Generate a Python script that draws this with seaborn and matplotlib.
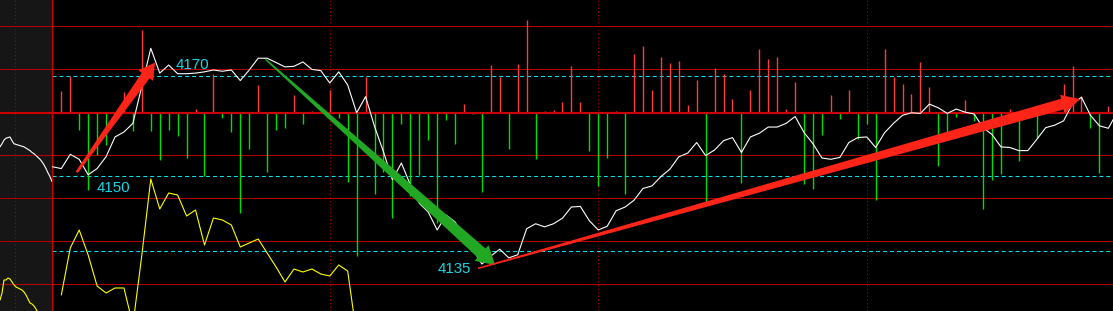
import numpy as np
import matplotlib
matplotlib.use("Agg")
import matplotlib.pyplot as plt
from matplotlib.patches import Polygon
import seaborn as sns

# ---------------- data ----------------
# main session: price line (slot -1 = open mark at the left border)
price_slots = list(range(-1, 119))
price = [4150.9, 4150.6, 4152.9, 4152.1, 4149.6, 4150.6, 4152.5, 4155.7, 4156.5, 4157.9,
         4163.9, 4170.0, 4166.0, 4167.3, 4165.9, 4165.9, 4166.0, 4166.2, 4166.5, 4166.3,
         4166.5, 4164.8, 4166.5, 4168.4, 4168.4, 4167.7, 4167.0, 4167.1, 4167.8, 4166.6,
         4166.4, 4164.4, 4166.2, 4164.1, 4159.6, 4162.2, 4157.4, 4153.3, 4148.8, 4151.5,
         4148.0, 4145.0, 4143.6, 4140.7, 4143.1, 4142.0, 4139.6, 4137.5, 4135.2, 4136.5,
         4137.6, 4136.2, 4136.7, 4140.9, 4141.7, 4141.2, 4141.7, 4142.6, 4144.4, 4144.5,
         4142.2, 4140.7, 4141.3, 4143.8, 4144.4, 4145.5, 4147.4, 4147.8, 4149.3, 4150.5,
         4152.5, 4153.1, 4154.8, 4152.7, 4153.6, 4155.1, 4155.6, 4153.2, 4155.7, 4156.3,
         4157.3, 4157.3, 4157.9, 4159.0, 4156.4, 4154.6, 4152.3, 4152.1, 4152.4, 4154.8,
         4155.6, 4155.7, 4154.0, 4156.4, 4157.9, 4159.2, 4159.6, 4159.5, 4161.0, 4160.4,
         4159.5, 4160.2, 4159.7, 4159.4, 4157.2, 4156.1, 4154.1, 4154.0, 4153.5, 4153.5,
         4155.3, 4157.2, 4157.6, 4158.3, 4161.1, 4162.1, 4159.2, 4157.5, 4157.1, 4159.7]

# net volume bars (positive = red, negative = green)
bar_slots = list(range(0, 118))
net_volume = [22, 37, -17, -77, -42, -32, 0, 21, -18, 83,
              -18, -47, -17, -23, -45, 4, -63, 39, -5, -19,
              -100, -36, 28, -59, -17, -15, 18, -11, 2, 0,
              23, -5, -69, -143, 36, -81, -59, -105, -11, -83,
              -62, -27, -110, -7, -31, 9, -1, -79, 48, 36,
              -36, 49, 93, -46, 2, 3, 11, 47, 11, -38,
              -73, -45, 2, -81, 59, 67, 23, 56, 50, 52,
              8, 33, -89, 45, 39, 14, -70, 23, 64, 54,
              56, 4, 31, -71, -76, -22, 18, -6, 23, -26,
              -11, -87, 64, 36, 29, 19, 51, 26, -53, -22,
              -4, 13, -8, -96, -67, -61, 4, -48, 0, -25,
              0, 0, 29, 47, 17, -15, -60, 7]

# yellow indicator (lower pane)
ind_slots = list(range(0, 34))
indicator = [16, 63, 81, 56, 25, 18, 23, 23, -14, 56,
             132, 102, 118, 116, 95, 101, 66, 93, 91, 86,
             64, 68, 72, 58, 44, 29, 42, 39, 42, 37,
             35, 46, 40, -24]

# previous session tail (grey pane on the left)
prev_slots = list(range(0, 27))
prev_price = [4154.1, 4154.6, 4155.2, 4155.5, 4155.6, 4155.7, 4155.1, 4154.6, 4154.5, 4154.4,
              4154.3, 4154.2, 4154.1, 4153.9, 4153.7, 4153.5, 4153.2, 4153.0, 4152.7, 4152.4,
              4152.1, 4151.7, 4151.2, 4150.6, 4149.9, 4149.3, 4148.5]
prev_ind_slots = list(range(0, 21))
prev_indicator = [11, 18, 31, 31, 33, 32, 29, 26, 24, 23,
                  22, 21, 19, 16, 12, 8, 7, 5, 2, -2, -6]

# annotations
level_labels = ["4170", "4150", "4135"]
level_label_slots = [12.82, 3.96, 42.02]
level_label_prices = [4166.6, 4146.8, 4133.7]
arrow_tails = [(1.72, 4150.0), (22.84, 4168.2), (46.56, 4134.5)]
arrow_tips = [(10.47, 4167.7), (48.46, 4135.05), (113.83, 4161.8)]
arrow_colors = ["#ff2418", "#22a822", "#ff2418"]
session_marks = [30, 60, 90]
prev_session_mark = 7.6

# ---------------- style ----------------
sns.set_theme(style="dark")
plt.rcParams["font.family"] = ["Liberation Sans", "DejaVu Sans"]

W, H = 1113, 311
DPI = 100
fig = plt.figure(figsize=(W / DPI, H / DPI), dpi=DPI, facecolor="black")
left = 52 / W

GRID_RED = "#b40000"
ZERO_RED = "#cc0000"
CYAN = "#00e5ee"

# background: grey previous-session pane + fixed grid (rows counted from top)
ax_bg = fig.add_axes([0, 0, 1, 1])
ax_bg.set_xlim(0, 1)
ax_bg.set_ylim(0, 1)
ax_bg.set_axis_off()
ax_bg.axvspan(0, left, color="#161616", lw=0)
for yrow in [26, 69, 155, 198, 241, 284]:
    ax_bg.axhline(1 - (yrow + 0.2) / H, color=GRID_RED, lw=0.75)
ax_bg.axhline(1 - 113 / H, color=ZERO_RED, lw=1.5)
for yrow in [76, 176, 251]:
    ax_bg.axhline(1 - (yrow + 0.2) / H, xmin=left, xmax=1, color=CYAN, lw=0.75,
                  ls=(0, (3.8, 2.9)))
ax_bg.axvline(52.2 / W, color=ZERO_RED, lw=0.9)

# previous session pane
ax_prev = fig.add_axes([0, 0, left, 1])
ax_prev.set_facecolor("none")
ax_prev_ind = ax_prev.twinx()
for a in (ax_prev, ax_prev_ind):
    a.set_axis_off()
    a.set_xlim(0, 26)
ax_prev.set_ylim(4127.63, 4177.79)
ax_prev_ind.set_ylim(0, 311)
ax_prev.axvline(prev_session_mark, color=GRID_RED, lw=0.75, ls=(0, (1, 2.5)))
sns.lineplot(x=prev_slots, y=prev_price, ax=ax_prev, color="white", lw=0.8)
sns.lineplot(x=prev_ind_slots, y=prev_indicator, ax=ax_prev_ind, color="#ffff00", lw=0.8)

# main pane
ax = fig.add_axes([left, 0, 1 - left, 1])
ax.set_facecolor("none")
ax_ind = ax.twinx()
ax_price = ax.twinx()
for a in (ax, ax_ind, ax_price):
    a.set_axis_off()
    a.set_xlim(-1.04, 117.52)
ax.set_ylim(-198, 113)
ax_ind.set_ylim(0, 311)
ax_price.set_ylim(4127.63, 4177.79)

for s in session_marks:
    ax.axvline(s, color=GRID_RED, lw=0.75, ls=(0, (1, 2.5)), zorder=0)

bar_colors = ["#ff3c3c" if v > 0 else "#00dd00" for v in net_volume]
ax.vlines(bar_slots, 0, net_volume, colors=bar_colors, lw=1.0, zorder=2)
ax.axhline(0, color=ZERO_RED, lw=1.5, zorder=3)

sns.lineplot(x=ind_slots, y=indicator, ax=ax_ind, color="#ffff00", lw=0.8)
sns.lineplot(x=price_slots, y=price, ax=ax_price, color="white", lw=0.8)


def tapered_arrow(axis, tail, tip, w_tail, w_neck, head_w, head_len, color):
    tr = axis.transData
    p0 = np.array(tr.transform(tail))
    p1 = np.array(tr.transform(tip))
    d = p1 - p0
    u = d / np.hypot(*d)
    n = np.array([-u[1], u[0]])
    neck = p1 - u * head_len
    pts = np.array([p0 + n * w_tail / 2, neck + n * w_neck / 2, neck + n * head_w / 2, p1,
                    neck - n * head_w / 2, neck - n * w_neck / 2, p0 - n * w_tail / 2])
    axis.add_patch(Polygon(tr.inverted().transform(pts), closed=True, fc=color,
                           ec="none", zorder=5))


arrow_shapes = [(2.5, 9.5, 18.0, 16.0), (1.5, 12.0, 21.0, 18.0), (1.5, 11.0, 19.0, 18.0)]
for tail, tip, col, shp in zip(arrow_tails, arrow_tips, arrow_colors, arrow_shapes):
    tapered_arrow(ax_price, tail, tip, *shp, col)

for lbl, xs, yp in zip(level_labels, level_label_slots, level_label_prices):
    ax_price.text(xs, yp, lbl, color="#18d8e8", fontsize=10.8, ha="left",
                  va="baseline", zorder=6)

fig.savefig("out.png", dpi=DPI, facecolor="black")
